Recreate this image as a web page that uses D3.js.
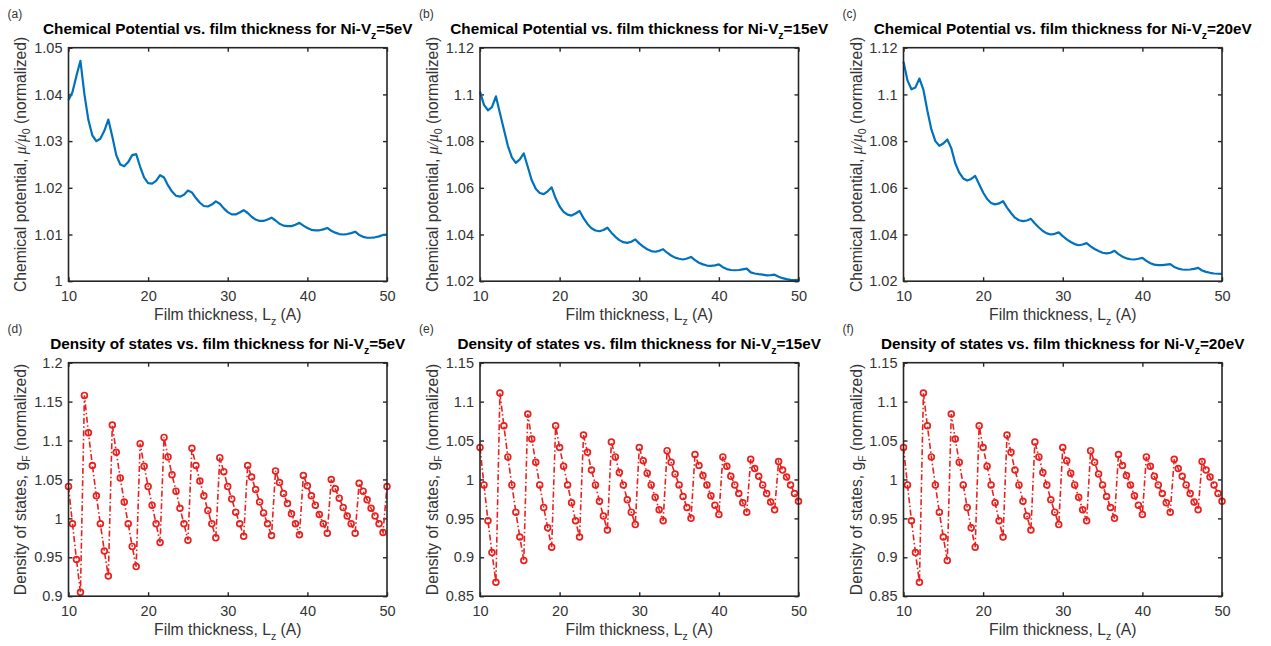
<!DOCTYPE html>
<html>
<head>
<meta charset="utf-8">
<script src="https://cdn.jsdelivr.net/npm/d3@7"></script>
<style>
  body { margin: 0; background: #fff; }
  svg { font-family: "Liberation Sans", Arial, sans-serif; }
</style>
</head>
<body>
<div id="chart"></div>
<script>
// film thickness Lz (A), shared by all six panels
var thickness = [10, 10.5, 11, 11.5, 12, 12.5, 13, 13.5, 14, 14.5, 15, 15.5, 16, 16.5, 17, 17.5, 18, 18.5, 19, 19.5,
    20, 20.5, 21, 21.5, 22, 22.5, 23, 23.5, 24, 24.5, 25, 25.5, 26, 26.5, 27, 27.5, 28, 28.5, 29, 29.5,
    30, 30.5, 31, 31.5, 32, 32.5, 33, 33.5, 34, 34.5, 35, 35.5, 36, 36.5, 37, 37.5, 38, 38.5, 39, 39.5,
    40, 40.5, 41, 41.5, 42, 42.5, 43, 43.5, 44, 44.5, 45, 45.5, 46, 46.5, 47, 47.5, 48, 48.5, 49, 49.5, 50]

// chemical potential mu/mu0
var chem5 = [1.0388, 1.0405, 1.0440, 1.0472, 1.0400, 1.0345, 1.0312, 1.0300, 1.0305, 1.0322, 1.0346, 1.0310, 1.0270, 1.0250, 1.0246, 1.0255, 1.0270, 1.0272, 1.0245, 1.0222,
    1.0210, 1.0209, 1.0215, 1.0227, 1.0222, 1.0205, 1.0192, 1.0183, 1.0181, 1.0185, 1.0194, 1.0190, 1.0178, 1.0168, 1.0161, 1.0160, 1.0164, 1.0171, 1.0166, 1.0156,
    1.0148, 1.0143, 1.0143, 1.0147, 1.0152, 1.0146, 1.0138, 1.0132, 1.0129, 1.0129, 1.0132, 1.0136, 1.0130, 1.0123, 1.0119, 1.0118, 1.0118, 1.0121, 1.0125, 1.0119,
    1.0114, 1.0110, 1.0109, 1.0109, 1.0111, 1.0114, 1.0108, 1.0104, 1.0101, 1.0100, 1.0101, 1.0103, 1.0106, 1.0099, 1.0095, 1.0093, 1.0093, 1.0094, 1.0096, 1.0099, 1.0100]
var chem15 = [1.1012, 1.0955, 1.0932, 1.0945, 1.0992, 1.0920, 1.0850, 1.0780, 1.0730, 1.0707, 1.0722, 1.0747, 1.0690, 1.0632, 1.0596, 1.0578, 1.0573, 1.0585, 1.0602, 1.0555,
    1.0520, 1.0497, 1.0485, 1.0481, 1.0490, 1.0501, 1.0470, 1.0445, 1.0427, 1.0417, 1.0414, 1.0419, 1.0429, 1.0408, 1.0390, 1.0376, 1.0367, 1.0364, 1.0369, 1.0379,
    1.0362, 1.0348, 1.0337, 1.0329, 1.0326, 1.0330, 1.0337, 1.0322, 1.0310, 1.0301, 1.0296, 1.0293, 1.0297, 1.0304, 1.0290, 1.0279, 1.0272, 1.0267, 1.0266, 1.0268,
    1.0272, 1.0260, 1.0252, 1.0248, 1.0247, 1.0248, 1.0251, 1.0254, 1.0238, 1.0233, 1.0230, 1.0228, 1.0225, 1.0226, 1.0228, 1.0219, 1.0213, 1.0209, 1.0206, 1.0205, 1.0206]
var chem20 = [1.1140, 1.1060, 1.1022, 1.1030, 1.1068, 1.1020, 1.0930, 1.0850, 1.0800, 1.0780, 1.0790, 1.0807, 1.0770, 1.0705, 1.0665, 1.0640, 1.0631, 1.0638, 1.0651, 1.0615,
    1.0580, 1.0552, 1.0535, 1.0529, 1.0533, 1.0543, 1.0515, 1.0492, 1.0472, 1.0461, 1.0457, 1.0460, 1.0467, 1.0447, 1.0430, 1.0415, 1.0405, 1.0400, 1.0403, 1.0409,
    1.0393, 1.0379, 1.0368, 1.0359, 1.0354, 1.0357, 1.0363, 1.0349, 1.0338, 1.0329, 1.0322, 1.0319, 1.0322, 1.0330, 1.0316, 1.0305, 1.0298, 1.0294, 1.0293, 1.0296,
    1.0300, 1.0287, 1.0277, 1.0271, 1.0269, 1.0269, 1.0271, 1.0273, 1.0261, 1.0254, 1.0250, 1.0249, 1.0250, 1.0253, 1.0257, 1.0246, 1.0240, 1.0236, 1.0233, 1.0232, 1.0231]

// density of states gF
var dos5 = [1.041, 0.993, 0.947, 0.905, 1.158, 1.110, 1.068, 1.029, 0.993, 0.958, 0.926, 1.120, 1.085, 1.052, 1.021, 0.993, 0.964, 0.938, 1.096, 1.067,
    1.041, 1.017, 0.993, 0.969, 1.104, 1.079, 1.056, 1.035, 1.013, 0.993, 0.972, 1.090, 1.068, 1.048, 1.029, 1.010, 0.993, 0.975, 1.078, 1.060,
    1.041, 1.025, 1.008, 0.993, 0.977, 1.068, 1.053, 1.037, 1.021, 1.007, 0.993, 0.978, 1.061, 1.046, 1.032, 1.019, 1.006, 0.993, 0.979, 1.055,
    1.042, 1.029, 1.017, 1.005, 0.993, 0.981, 1.050, 1.038, 1.026, 1.014, 1.003, 0.993, 0.981, 1.045, 1.035, 1.024, 1.013, 1.003, 0.993, 0.982, 1.041]
var dos15 = [1.041, 0.993, 0.947, 0.906, 0.868, 1.111, 1.069, 1.029, 0.993, 0.958, 0.926, 0.896, 1.084, 1.052, 1.022, 0.993, 0.964, 0.938, 0.913, 1.069,
    1.041, 1.017, 0.993, 0.970, 0.947, 0.926, 1.057, 1.035, 1.012, 0.993, 0.972, 0.953, 0.935, 1.048, 1.029, 1.009, 0.993, 0.974, 0.958, 0.942,
    1.041, 1.024, 1.008, 0.993, 0.977, 0.961, 0.947, 1.037, 1.022, 1.007, 0.993, 0.978, 0.964, 0.950, 1.032, 1.018, 1.005, 0.993, 0.979, 0.967,
    0.955, 1.029, 1.017, 1.004, 0.993, 0.982, 0.970, 0.958, 1.026, 1.014, 1.004, 0.993, 0.982, 0.971, 0.961, 1.023, 1.012, 1.003, 0.993, 0.982, 0.972]
var dos20 = [1.041, 0.993, 0.947, 0.906, 0.868, 1.111, 1.069, 1.029, 0.993, 0.958, 0.926, 0.896, 1.084, 1.052, 1.022, 0.993, 0.964, 0.938, 0.913, 1.069,
    1.041, 1.017, 0.993, 0.970, 0.947, 0.926, 1.057, 1.035, 1.012, 0.993, 0.972, 0.953, 0.935, 1.048, 1.029, 1.009, 0.993, 0.974, 0.958, 0.942,
    1.041, 1.024, 1.008, 0.993, 0.977, 0.961, 0.947, 1.037, 1.022, 1.007, 0.993, 0.978, 0.964, 0.950, 1.032, 1.018, 1.005, 0.993, 0.979, 0.967,
    0.955, 1.029, 1.017, 1.004, 0.993, 0.982, 0.970, 0.958, 1.026, 1.014, 1.004, 0.993, 0.982, 0.971, 0.961, 1.023, 1.012, 1.003, 0.993, 0.982, 0.972]

var xTicks = [10, 20, 30, 40, 50]
var chemTicks5 = [1, 1.01, 1.02, 1.03, 1.04, 1.05]
var chemTicksHi = [1.02, 1.04, 1.06, 1.08, 1.1, 1.12]
var dosTicks5 = [0.9, 0.95, 1, 1.05, 1.1, 1.15, 1.2]
var dosTicksHi = [0.85, 0.9, 0.95, 1, 1.05, 1.1, 1.15]
var energies = ["5", "15", "20"]
var panelLetters = ["a", "b", "c", "d", "e", "f"]

var W = 1271, H = 646
var axisColor = "#262626"
var blue = "#0072bd", red = "#e8201e"

var svg = d3.select("#chart").append("svg")
    .attr("width", W)
    .attr("height", H)

var colLeft = [68.5, 480, 903.5],
    rowTop = [47.7, 362.7],
    plotW = 318.5,
    plotH = 233.5,
    labelX = [26, 438, 862]

function drawPanel(config){
    var left = colLeft[config.col], top = rowTop[config.row]
    var g = svg.append("g")
        .attr("transform", "translate(" + left + "," + top + ")")

    var x = d3.scaleLinear().domain([10, 50]).range([0, plotW])
    var y = d3.scaleLinear().domain(d3.extent(config.ticks)).range([plotH, 0])
    var fmt = function(d){ return String(+d.toFixed(2)) }

    var xAxis = d3.axisBottom(x).tickValues(xTicks).tickSize(-4).tickSizeOuter(0).tickPadding(10).tickFormat(fmt)
    var yAxis = d3.axisLeft(y).tickValues(config.ticks).tickSize(-4).tickSizeOuter(0).tickPadding(6).tickFormat(fmt)

    var gx = g.append("g").attr("transform", "translate(0," + plotH + ")").call(xAxis)
    var gy = g.append("g").call(yAxis)
    var gt = g.append("g").call(d3.axisTop(x).tickValues(xTicks).tickSize(-4).tickSizeOuter(0).tickFormat(""))
    var gr = g.append("g").attr("transform", "translate(" + plotW + ",0)")
        .call(d3.axisRight(y).tickValues(config.ticks).tickSize(-4).tickSizeOuter(0).tickFormat(""))

    ;[gx, gy, gt, gr].forEach(function(a){
        a.select(".domain").remove()
        a.selectAll("line").attr("stroke", axisColor).attr("stroke-width", 1.4)
        a.selectAll("text").attr("fill", "#333").attr("font-size", 14.5)
            .attr("font-family", "Liberation Sans, Arial, sans-serif")
    })

    var pts = thickness.map(function(t, i){ return [t, config.values[i]] })
    var line = d3.line()
        .x(function(d){ return x(d[0]) })
        .y(function(d){ return y(d[1]) })

    if (config.kind == "chem"){
        g.append("path")
            .datum(pts)
            .attr("d", line)
            .attr("fill", "none")
            .attr("stroke", blue)
            .attr("stroke-width", 2.2)
            .attr("stroke-linejoin", "round")
    } else {
        g.append("path")
            .datum(pts)
            .attr("d", line)
            .attr("fill", "none")
            .attr("stroke", red)
            .attr("stroke-width", 1.6)
            .attr("stroke-dasharray", "6,2.5,1.5,2.5")
        g.append("g")
            .selectAll("circle")
            .data(pts)
            .enter()
                .append("circle")
                .attr("cx", function(d){ return x(d[0]) })
                .attr("cy", function(d){ return y(d[1]) })
                .attr("r", 2.9)
                .attr("fill", "none")
                .attr("stroke", red)
                .attr("stroke-width", 1.7)
    }

    // box
    g.append("rect")
        .attr("width", plotW)
        .attr("height", plotH)
        .attr("fill", "none")
        .attr("stroke", axisColor)
        .attr("stroke-width", 1.6)

    // title
    var title = g.append("text")
        .attr("x", plotW / 2)
        .attr("y", -13.5)
        .attr("text-anchor", "middle")
        .attr("font-weight", "bold")
        .attr("font-size", 15.3)
        .attr("fill", "#000")
    title.append("tspan").text(config.title + " vs. film thickness for Ni-V")
    title.append("tspan").attr("font-size", 10.5).attr("dy", 5).text("z")
    title.append("tspan").attr("dy", -5).text("=" + config.energy + "eV")

    // x label
    var xl = g.append("text")
        .attr("x", plotW / 2)
        .attr("y", plotH + 39)
        .attr("text-anchor", "middle")
        .attr("font-size", 15.7)
        .attr("fill", "#333")
    xl.append("tspan").text("Film thickness, L")
    xl.append("tspan").attr("font-size", 10.5).attr("dy", 5).text("z")
    xl.append("tspan").attr("dy", -5).text(" (A)")

    // y label
    var yl = svg.append("text")
        .attr("transform", "translate(" + labelX[config.col] + "," + (top + plotH / 2) + ") rotate(-90)")
        .attr("text-anchor", "middle")
        .attr("font-size", 15.7)
        .attr("fill", "#333")
    if (config.kind == "chem"){
        yl.append("tspan").text("Chemical potential, ")
        yl.append("tspan").attr("font-family", "Liberation Serif, serif").attr("font-style", "italic").text("\u03bc/\u03bc")
        yl.append("tspan").attr("font-size", 10.5).attr("dy", 4).text("0")
        yl.append("tspan").attr("dy", -4).text(" (normalized)")
    } else {
        yl.append("tspan").text("Density of states, g")
        yl.append("tspan").attr("font-size", 10.5).attr("dy", 4).text("F")
        yl.append("tspan").attr("dy", -4).text(" (normalized)")
    }

    // panel letter
    svg.append("text")
        .attr("x", left - 61)
        .attr("y", top - 30)
        .attr("font-size", 12)
        .attr("fill", "#333")
        .text("(" + config.letter + ")")
}

var chemSets = [chem5, chem15, chem20]
var dosSets = [dos5, dos15, dos20]
energies.forEach(function(e, i){
    drawPanel({ row: 0, col: i, kind: "chem", title: "Chemical Potential", energy: e,
        values: chemSets[i], ticks: i == 0 ? chemTicks5 : chemTicksHi, letter: panelLetters[i] })
    drawPanel({ row: 1, col: i, kind: "dos", title: "Density of states", energy: e,
        values: dosSets[i], ticks: i == 0 ? dosTicks5 : dosTicksHi, letter: panelLetters[i + 3] })
})
</script>
</body>
</html>
